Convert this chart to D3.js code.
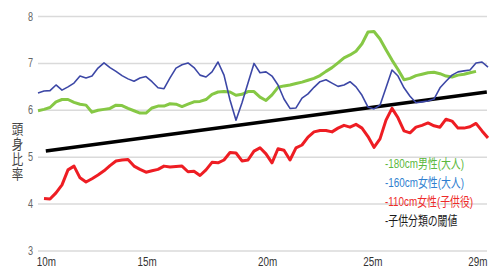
<!DOCTYPE html>
<html><head><meta charset="utf-8">
<script src="https://cdn.jsdelivr.net/npm/d3@7"></script>
<style>
html,body{margin:0;padding:0;background:#fff;}
svg{display:block;}
text{font-family:"Liberation Sans","Noto Sans CJK JP",sans-serif;}
</style></head>
<body><svg id="c" width="489" height="268"></svg>
<script>
// ---- data (frame index 0..75) ----
const blue160 = [6.37,6.41,6.42,6.54,6.43,6.50,6.58,6.73,6.69,6.73,
  6.90,7.01,6.91,6.83,6.74,6.67,6.62,6.69,6.72,6.61,
  6.48,6.46,6.69,6.90,6.97,7.01,6.91,6.75,6.71,6.82,
  7.03,6.75,6.22,5.79,6.16,6.58,7.00,6.80,6.82,6.73,
  6.54,6.24,6.04,6.05,6.26,6.35,6.49,6.61,6.65,6.58,
  6.51,6.54,6.61,6.50,6.32,6.07,6.03,6.11,6.48,6.86,
  6.73,6.48,6.30,6.16,6.18,6.20,6.24,6.48,6.62,6.75,
  6.82,6.84,6.86,7.01,7.03,6.92];
const green180 = [5.99,6.02,6.06,6.18,6.23,6.23,6.17,6.13,6.11,5.96,
  6.00,6.02,6.04,6.11,6.10,6.04,5.99,5.94,5.94,6.05,
  6.09,6.09,6.14,6.13,6.08,6.13,6.18,6.19,6.23,6.34,
  6.39,6.40,6.39,6.32,6.34,6.40,6.40,6.28,6.21,6.33,
  6.49,6.52,6.54,6.57,6.60,6.64,6.68,6.74,6.83,6.91,
  7.01,7.12,7.18,7.26,7.42,7.67,7.68,7.52,7.29,7.07,
  6.87,6.65,6.68,6.74,6.77,6.80,6.81,6.78,6.73,6.71,
  6.75,6.77,6.80,6.83,null,null];
const red110 = [null,4.12,4.11,4.24,4.41,4.73,4.81,4.56,4.47,4.54,
  4.62,4.71,4.82,4.92,4.94,4.95,4.81,4.74,4.68,4.71,
  4.74,4.81,4.79,4.80,4.81,4.69,4.70,4.61,4.73,4.89,
  4.88,4.94,5.10,5.09,4.92,4.94,5.13,5.20,5.07,4.88,
  5.18,5.15,4.94,5.20,5.26,5.43,5.54,5.57,5.57,5.54,
  5.62,5.68,5.64,5.70,5.62,5.44,5.21,5.39,5.79,6.04,
  5.84,5.56,5.52,5.64,5.68,5.73,5.67,5.64,5.81,5.77,
  5.62,5.62,5.65,5.72,5.56,5.41];
const thresholdFrames = [1.3, 74.8];
const thresholdValues = [5.13, 6.39];
const yTicks = [3,4,5,6,7,8];
const xTickLabels = ["10m","15m","20m","25m","29m"];
const xTickFrames = [1.4, 18.2, 38.25, 55.8, 73.3];
const yTitle = "頭身比率";
const legendLabels = ["-180cm男性(大人)","-160cm女性(大人)","-110cm女性(子供役)","-子供分類の閾値"];
const legendColors = ["#5cb940","#2f7fd0","#ee2a2a","#1a1a1a"];

// ---- drawing ----
const svg = d3.select("#c");
const x = d3.scaleLinear().domain([0,75]).range([38,488]);
const y = d3.scaleLinear().domain([3,8]).range([251,16.5]);
const SQ = 0.76;

svg.append("g").selectAll("line").data(yTicks).join("line")
  .attr("x1",38).attr("x2",487)
  .attr("y1",d=>y(d)).attr("y2",d=>y(d))
  .attr("stroke","#dadada").attr("stroke-width",1.5);

svg.append("g").selectAll("text").data(yTicks).join("text")
  .attr("transform",d=>`translate(33,${y(d)+4}) scale(${SQ},1)`)
  .attr("text-anchor","end").attr("font-size",12).attr("fill","#666")
  .text(d=>d);

svg.append("g").selectAll("text").data(xTickLabels).join("text")
  .attr("transform",(d,i)=>`translate(${x(xTickFrames[i])},266) scale(${SQ},1)`)
  .attr("text-anchor","middle").attr("font-size",13).attr("fill","#333")
  .text(d=>d);

svg.append("g").selectAll("text").data(Array.from(yTitle)).join("text")
  .attr("transform",(d,i)=>`translate(17.5,${134+i*15}) scale(0.85,1)`)
  .attr("text-anchor","middle").attr("font-size",13.5).attr("fill","#444")
  .text(d=>d);

const line = d3.line().defined(d=>d[1]!=null).x(d=>x(d[0])).y(d=>y(d[1]));
const pts = arr => arr.map((v,i)=>[i,v]);

svg.append("path").datum(pts(green180)).attr("d",line)
  .attr("fill","none").attr("stroke","#86c845").attr("stroke-width",3).attr("stroke-linejoin","round");
svg.append("path").datum(pts(red110)).attr("d",line)
  .attr("fill","none").attr("stroke","#ee1d23").attr("stroke-width",3).attr("stroke-linejoin","round");
svg.append("path").datum(thresholdFrames.map((f,i)=>[f,thresholdValues[i]])).attr("d",line)
  .attr("fill","none").attr("stroke","#000").attr("stroke-width",3.5);
svg.append("path").datum(pts(blue160)).attr("d",line)
  .attr("fill","none").attr("stroke","#3c47a6").attr("stroke-width",1.6).attr("stroke-linejoin","round");

svg.append("g").selectAll("text").data(legendLabels).join("text")
  .attr("transform",(d,i)=>`translate(385,${167.5+i*19.2}) scale(${SQ},1)`)
  .attr("font-size",13).attr("fill",(d,i)=>legendColors[i])
  .text(d=>d);
</script></body></html>
